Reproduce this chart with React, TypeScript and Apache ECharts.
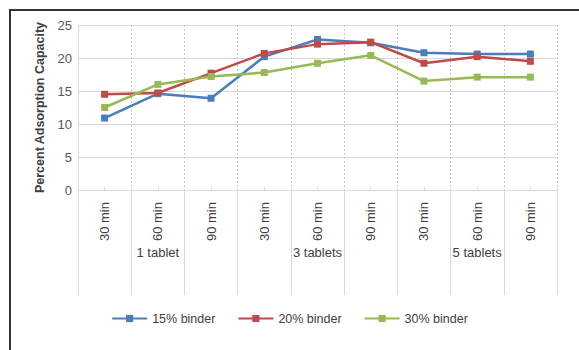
import React, { useEffect, useRef } from "react";
import * as echarts from "echarts";

const categories = ["30 min", "60 min", "90 min", "30 min", "60 min", "90 min", "30 min", "60 min", "90 min"];
const groups = ["1 tablet", "3 tablets", "5 tablets"];
const binder15 = [10.9, 14.6, 13.9, 20.2, 22.8, 22.3, 20.8, 20.6, 20.6];
const binder20 = [14.5, 14.7, 17.7, 20.7, 22.1, 22.4, 19.2, 20.2, 19.5];
const binder30 = [12.5, 16.0, 17.2, 17.8, 19.2, 20.4, 16.5, 17.1, 17.1];
const seriesNames = ["15% binder", "20% binder", "30% binder"];
const yTicks = { min: 0, max: 25, interval: 5 };
const colors = ["#4A7EBB", "#BE4B48", "#98B954"];

const FONT = "'Liberation Sans', Arial, sans-serif";

export default function App() {
  const ref = useRef<HTMLDivElement>(null);
  useEffect(() => {
    if (!ref.current) return;
    const chart = echarts.init(ref.current, undefined, { renderer: "svg" });
    const mk = (name: string, data: number[], color: string) => ({
      name,
      type: "line",
      data,
      xAxisIndex: 0,
      color,
      symbol: "rect",
      symbolSize: 7,
      lineStyle: { width: 2.5, color },
      itemStyle: { color },
    });
    chart.setOption({
      animation: false,
      backgroundColor: "#ffffff",
      textStyle: { fontFamily: FONT },
      grid: { left: 78, right: 22, top: 25, bottom: 160, containLabel: false },
      legend: {
        data: seriesNames,
        top: 307,
        left: "center",
        itemWidth: 35,
        itemHeight: 9,
        itemGap: 22,
        textStyle: { fontSize: 12.5, color: "#404040", fontFamily: FONT },
      },
      xAxis: [
        {
          type: "category",
          data: categories,
          boundaryGap: true,
          axisLine: { show: true, lineStyle: { color: "#d9d9d9", width: 1 } },
          axisTick: { show: true, inside: true, length: 3, alignWithLabel: true, lineStyle: { color: "#d9d9d9" } },
          axisLabel: { rotate: 90, margin: 12, fontSize: 13, color: "#404040", interval: 0, fontFamily: FONT },
          splitLine: { show: true, interval: 0, lineStyle: { color: "#c8c8c8", type: [2, 2], width: 1 } },
        },
        {
          type: "category",
          data: categories,
          position: "bottom",
          boundaryGap: true,
          axisLine: { show: false },
          axisTick: { show: true, length: 105, interval: 0, lineStyle: { color: "#d9d9d9" } },
          axisLabel: { show: false },
          splitLine: { show: false },
        },
        {
          type: "category",
          data: groups,
          position: "bottom",
          boundaryGap: true,
          axisLine: { show: false },
          axisTick: { show: false },
          axisLabel: { margin: 56, fontSize: 13, color: "#404040", interval: 0, fontFamily: FONT },
          splitLine: { show: false },
        },
      ],
      yAxis: {
        type: "value",
        min: yTicks.min,
        max: yTicks.max,
        interval: yTicks.interval,
        name: "Percent Adsorption Capacity",
        nameLocation: "middle",
        nameGap: 32,
        nameTextStyle: { fontSize: 12.5, fontWeight: 600, color: "#404040", fontFamily: FONT },
        axisLine: { show: true, lineStyle: { color: "#d9d9d9" } },
        axisTick: { show: false },
        axisLabel: { fontSize: 13, color: "#595959", margin: 6, fontFamily: FONT },
        splitLine: { show: true, lineStyle: { color: "#d9d9d9", width: 1 } },
      },
      graphic: [
        {
          type: "rect",
          shape: { x: 10, y: 10, width: 620, height: 400 },
          style: { fill: "none", stroke: "#333333", lineWidth: 2 },
          silent: true,
          z: 100,
        },
      ],
      series: [
        mk(seriesNames[0], binder15, colors[0]),
        mk(seriesNames[1], binder20, colors[1]),
        mk(seriesNames[2], binder30, colors[2]),
      ],
    });
    return () => chart.dispose();
  }, []);
  return (
    <div
      ref={ref}
      style={{ position: "absolute", left: 0, top: 0, width: 579, height: 350 }}
    />
  );
}
